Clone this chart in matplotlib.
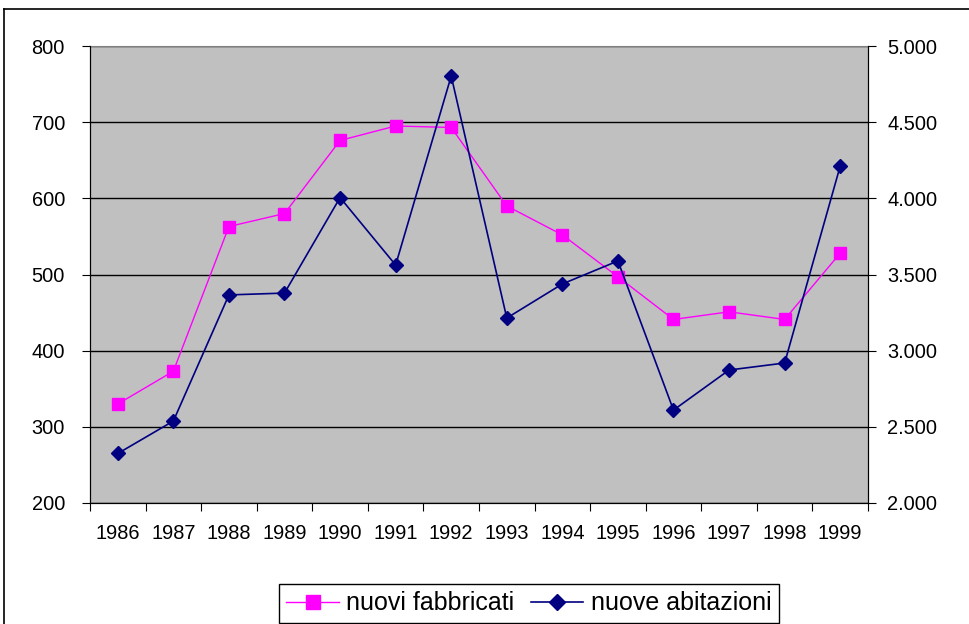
import numpy as np
import matplotlib.pyplot as plt
from matplotlib.lines import Line2D
from matplotlib.ticker import FuncFormatter

plt.rcParams["font.family"] = ["Liberation Sans", "DejaVu Sans"]

anni = ["1986", "1987", "1988", "1989", "1990", "1991", "1992",
        "1993", "1994", "1995", "1996", "1997", "1998", "1999"]
fabbricati = [330, 373, 563, 580, 676, 695, 693, 590, 552, 497, 441, 451, 441, 528]
abitazioni = [2325, 2538, 3366, 3378, 4005, 3562, 4803, 3214, 3438, 3589, 2610, 2873, 2919, 4212]

fig = plt.figure(figsize=(9.7, 6.24), dpi=100)
ax = fig.add_axes([90 / 970, 121 / 624, 778 / 970, 457 / 624])
ax2 = ax.twinx()

x = np.arange(len(anni))
ax.set_facecolor("#c0c0c0")
ax.plot(x, fabbricati, color="#ff00ff", lw=1, marker="s", ms=9, zorder=3)
ax2.plot(x, abitazioni, color="#000080", lw=1.2, marker="D", ms=7, zorder=3)

ax.set_xlim(-0.5, len(anni) - 0.5)
ax.set_ylim(200, 800)
ax.set_yticks(range(200, 801, 100))
ax2.set_ylim(2000, 5000)
ax2.set_yticks(range(2000, 5001, 500))
ax2.yaxis.set_major_formatter(FuncFormatter(lambda v, p: f"{v/1000:.3f}"))

ax.yaxis.grid(True, color="black", lw=1)
ax.set_axisbelow(True)

ax.set_xticks(np.arange(-0.5, len(anni), 1))
ax.set_xticklabels([])
ax.set_xticks(x, minor=True)
ax.set_xticklabels(anni, minor=True)
ax.tick_params(axis="x", which="minor", length=0, pad=15, labelsize=14.4)
ax.tick_params(axis="x", which="major", length=6, direction="out", color="black")
ax.tick_params(axis="y", length=6, labelsize=14.4, pad=12)
ax2.tick_params(axis="y", length=6, labelsize=14.4, pad=8)

for a in (ax, ax2):
    a.spines["top"].set_visible(False)
    for s in ("left", "right", "bottom"):
        a.spines[s].set_color("black")
ax.spines["top"].set_visible(True)
ax.spines["top"].set_color("#808080")

# bordo area grafico
fig.add_artist(Line2D([4 / 970, 4 / 970], [0, 1 - 9 / 624], color="black", lw=1.2))
fig.add_artist(Line2D([4 / 970, 1], [1 - 9 / 624, 1 - 9 / 624], color="black", lw=1.2))

handles = [Line2D([], [], color="#ff00ff", lw=1, marker="s", ms=10),
           Line2D([], [], color="#000080", lw=1.2, marker="D", ms=8)]
fig.legend(handles, ["nuovi fabbricati", "nuove abitazioni"], loc="center",
           bbox_to_anchor=(529 / 970, 1 - 603.5 / 624), ncol=2, fontsize=18,
           frameon=True, fancybox=False, edgecolor="black", framealpha=1,
           handlelength=2.1, handletextpad=0.3, columnspacing=0.65, borderpad=0.3)

fig.savefig("out.png", dpi=100)
